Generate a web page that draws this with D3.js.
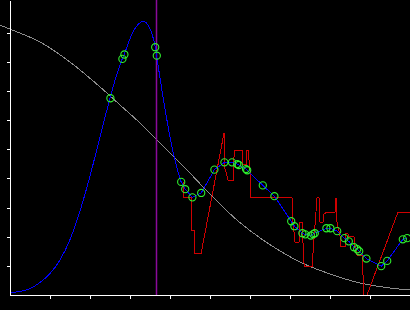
<!DOCTYPE html>
<html lang="en">

<head>
	<meta charset="UTF-8">
	<script src="https://cdn.jsdelivr.net/npm/d3@7"></script>
	<title>Fit</title>
	<style>
		body {
			margin: 0;
			background: black;
		}

		svg {
			display: block;
		}

		.axis path,
		.axis line {
			stroke: white;
			shape-rendering: crispEdges;
		}

		path.trace {
			fill: none;
			shape-rendering: crispEdges;
		}
	</style>
</head>

<body>
	<script>
		/*-------------------------------------------------------*/
		/*------------------------ data -------------------------*/
		/*-------------------------------------------------------*/
		// smooth model curve (left part of the blue line)
		const curveX = [0, 0.25, 0.5, 0.75, 1.0, 1.25, 1.5, 1.75, 2.0, 2.25, 2.5, 2.65, 2.808, 2.855, 2.95, 3.075,
			3.2, 3.333, 3.45, 3.543, 3.633, 3.668, 3.708, 3.793, 3.875, 3.958, 4.083, 4.168, 4.275];
		const curveY = [0.086, 0.12, 0.223, 0.429, 0.738, 1.201, 1.904, 2.882, 4.082, 5.42, 6.748, 7.479, 8.103, 8.254,
			8.611, 9.022, 9.28, 9.389, 9.262, 8.988, 8.497, 8.209, 7.822, 7.067, 6.381, 5.729, 4.871, 4.391, 3.876];

		// sample points (green circles)
		const dotX = [2.51, 2.81, 2.86, 3.63, 3.67, 4.28, 4.38, 4.56, 4.78, 5.11, 5.36, 5.55, 5.68, 5.72, 5.90, 5.93,
			6.32, 6.61, 7.03, 7.11, 7.31, 7.38, 7.52, 7.58, 7.62, 7.91, 8.01, 8.18, 8.36, 8.47, 8.60, 8.68, 8.73,
			8.91, 9.28, 9.43, 9.82, 9.93];
		const dotY = [6.75, 8.10, 8.25, 8.50, 8.21, 3.88, 3.63, 3.35, 3.50, 4.30, 4.55, 4.55, 4.49, 4.46, 4.32, 4.28,
			3.76, 3.39, 2.53, 2.36, 2.12, 2.08, 2.04, 2.09, 2.12, 2.29, 2.29, 2.19, 1.95, 1.84, 1.64, 1.57, 1.50,
			1.25, 0.99, 1.17, 1.91, 1.95];

		// raw signal (red)
		const redX = [4.325, 4.325, 4.525, 4.525, 4.6, 4.6, 4.775, 5.35, 5.35, 5.4, 5.45, 5.575, 5.575, 5.625, 5.8,
			5.8, 5.9, 5.925, 5.95, 6.0, 6.0, 7.05, 7.075, 7.125, 7.225, 7.25, 7.3, 7.35, 7.375, 7.55, 7.675, 7.725,
			7.75, 7.825, 7.85, 7.925, 8.125, 8.15, 8.175, 8.25, 8.25, 8.375, 8.375, 8.45, 8.475, 8.6, 8.625, 8.675,
			8.8, 8.825, 8.85, 8.925, 9.7, 10];
		const redY = [3.877, 3.328, 3.328, 2.196, 2.196, 1.407, 1.407, 5.557, 4.46, 4.22, 3.945, 3.945, 4.46, 4.974,
			4.974, 4.46, 4.46, 4.974, 4.974, 4.288, 3.328, 3.328, 2.504, 1.818, 1.818, 2.504, 2.504, 1.098, 0.961,
			0.961, 3.328, 3.328, 2.504, 2.504, 2.779, 2.847, 2.847, 3.328, 2.504, 2.024, 1.647, 1.647, 2.093, 2.093,
			1.99, 1.99, 1.647, 1.372, 1.372, 0.686, 0, 0, 2.847, 2.847];

		// decay envelope (gray)
		const grayX = [-0.25, 0, 0.75, 1.5, 2.25, 2.75, 3.25, 3.75, 4.375, 5.0, 5.675, 6.25, 6.75, 7.25, 8.0, 8.75, 9.5, 10];
		const grayY = [9.26, 9.12, 8.68, 7.99, 7.14, 6.52, 5.9, 5.21, 4.36, 3.46, 2.57, 1.96, 1.51, 1.13, 0.72, 0.41, 0.24, 0.17];

		// vertical marker
		const markerX = [3.66];

		const xTicks = [1, 2, 3, 4, 5, 6, 7, 8, 9];
		const yTicks = [1, 2, 3, 4, 5, 6, 7, 8, 9];

		/*-------------------------------------------------------*/
		/*------------------------ setup ------------------------*/
		/*-------------------------------------------------------*/
		const width = 410, height = 310;

		const x = d3.scaleLinear().domain([0, 10]).range([10, 410]);
		const y = d3.scaleLinear().domain([0, 10.12]).range([295, 0]);

		let svg = d3.select("body").append("svg")
			.attr("width", width)
			.attr("height", height);

		svg.append("rect")
			.attr("width", width)
			.attr("height", height)
			.attr("fill", "black");

		const line = d3.line()
			.x(d => x(d[0]))
			.y(d => y(d[1]));

		/*-------------------------------------------------------*/
		/*------------------------ marks ------------------------*/
		/*-------------------------------------------------------*/
		// gray envelope
		svg.append("path")
			.attr("class", "trace")
			.attr("d", line.curve(d3.curveMonotoneX)(d3.zip(grayX, grayY)))
			.attr("stroke", "#8c8c8c")
			.attr("stroke-width", 1);

		// purple marker
		svg.selectAll("line.marker")
			.data(markerX)
			.enter()
			.append("line")
			.attr("class", "marker")
			.attr("x1", d => Math.round(x(d)) + 0.5)
			.attr("x2", d => Math.round(x(d)) + 0.5)
			.attr("y1", y.range()[1])
			.attr("y2", y.range()[0])
			.attr("stroke", "#8a0a9a")
			.attr("stroke-width", 1.5);

		// red signal
		svg.append("path")
			.attr("class", "trace")
			.attr("d", line.curve(d3.curveLinear)(d3.zip(redX, redY)))
			.attr("stroke", "#d00000")
			.attr("stroke-width", 1);

		// blue model: smooth part, then straight through the later samples
		svg.append("path")
			.attr("class", "trace")
			.attr("d", line.curve(d3.curveMonotoneX)(d3.zip(curveX, curveY)))
			.attr("stroke", "#0000ff")
			.attr("stroke-width", 1);

		const lastX = curveX[curveX.length - 1];
		const tail = [[lastX, curveY[curveY.length - 1]]].concat(d3.zip(dotX, dotY).filter(d => d[0] > lastX));
		svg.append("path")
			.attr("class", "trace")
			.attr("d", line.curve(d3.curveLinear)(tail))
			.attr("stroke", "#0000ff")
			.attr("stroke-width", 1);

		// green sample circles
		svg.selectAll("circle")
			.data(d3.zip(dotX, dotY))
			.enter()
			.append("circle")
			.attr("cx", d => x(d[0]))
			.attr("cy", d => y(d[1]))
			.attr("r", 3.6)
			.attr("fill", "none")
			.attr("stroke", "#2ef02e")
			.attr("stroke-width", 1.1);

		/*-------------------------------------------------------*/
		/*------------------------ axes -------------------------*/
		/*-------------------------------------------------------*/
		svg.append("g")
			.attr("class", "axis")
			.attr("transform", `translate(0,${y(0)})`)
			.call(d3.axisBottom(x).tickValues(xTicks).tickSize(4).tickSizeOuter(0).tickFormat(""));

		svg.append("g")
			.attr("class", "axis")
			.attr("transform", `translate(${x(0)},0)`)
			.call(d3.axisLeft(y).tickValues(yTicks).tickSize(3.5).tickSizeOuter(0).tickFormat(""));
	</script>
</body>

</html>
